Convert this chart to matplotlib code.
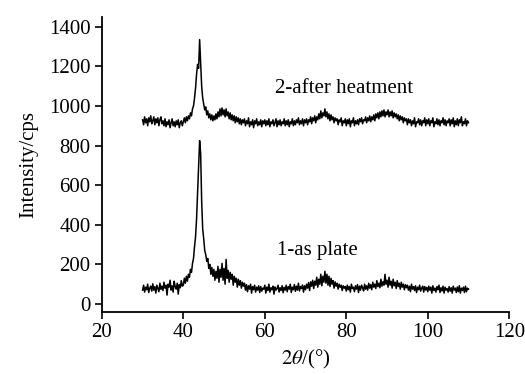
import matplotlib
import matplotlib.pyplot as plt
import numpy as np

matplotlib.use("Agg")

plt.rcParams["font.family"] = "Liberation Serif"
plt.rcParams["mathtext.fontset"] = "stix"

# intensity, 30..110 deg every 0.25 deg
as_plate = [
    70, 95, 60, 85, 72, 100, 58, 80, 90, 65, 102, 70, 88, 55, 95, 78, 62, 105, 74, 90,
    68, 110, 80, 95, 45, 100, 85, 120, 70, 92, 60, 115, 88, 75, 105, 50, 98, 82, 118, 90,
    95, 130, 105, 140, 115, 150, 135, 175, 160, 205, 230, 290, 340, 430, 560, 700, 825, 760, 520, 380,
    330, 270, 250, 215, 230, 180, 200, 150, 185, 140, 175, 120, 165, 130, 190, 110, 175, 135, 205, 120,
    180, 100, 225, 130, 170, 110, 160, 125, 150, 95, 140, 110, 130, 85, 125, 95, 118, 80, 110, 90,
    105, 70, 98, 62, 92, 75, 100, 55, 88, 72, 95, 60, 85, 70, 92, 58, 88, 65, 80, 75,
    95, 55, 85, 68, 100, 60, 82, 72, 90, 50, 86, 70, 78, 95, 60, 82, 68, 92, 57, 84,
    70, 95, 62, 88, 75, 100, 58, 85, 72, 98, 64, 90, 70, 105, 66, 88, 78, 96, 60, 92,
    72, 100, 80, 108, 68, 112, 90, 120, 78, 115, 95, 135, 85, 125, 100, 150, 92, 140, 110, 165,
    105, 150, 95, 140, 88, 130, 100, 118, 80, 112, 90, 105, 75, 100, 85, 95, 68, 92, 80, 88,
    65, 95, 72, 88, 60, 100, 78, 85, 62, 92, 75, 98, 58, 90, 70, 95, 82, 66, 100, 75,
    92, 70, 105, 80, 98, 72, 110, 85, 100, 78, 118, 88, 105, 82, 125, 90, 112, 95, 150, 100,
    120, 85, 135, 95, 115, 80, 125, 92, 110, 78, 118, 88, 105, 75, 110, 85, 100, 72, 98, 82,
    95, 70, 90, 62, 100, 75, 88, 68, 92, 58, 85, 72, 95, 65, 80, 90, 60, 88, 70, 84,
    62, 90, 70, 85, 55, 92, 68, 80, 60, 88, 72, 95, 58, 82, 66, 90, 55, 85, 70, 78,
    60, 88, 65, 82, 55, 90, 70, 80, 58, 86, 62, 92, 55, 80, 68, 85, 58, 90, 62, 80,
    75,
]

after_heat = [
    930, 905, 945, 915, 935, 900, 940, 920, 950, 910, 925, 945, 905, 935, 915, 940, 900, 930, 945, 910,
    925, 900, 935, 895, 920, 905, 930, 890, 915, 935, 900, 920, 895, 925, 905, 930, 890, 915, 925, 900,
    920, 940, 915, 945, 925, 950, 935, 965, 950, 985, 1000, 1040, 1090, 1160, 1210, 1190, 1335, 1220, 1100, 1040,
    1010, 980, 995, 955, 975, 940, 960, 930, 955, 925, 950, 930, 960, 935, 970, 945, 985, 950, 990, 955,
    980, 945, 985, 950, 970, 935, 965, 930, 955, 925, 950, 915, 945, 920, 940, 910, 935, 905, 930, 915,
    935, 900, 925, 910, 940, 895, 920, 905, 930, 890, 925, 910, 935, 900, 920, 905, 930, 895, 925, 910,
    930, 900, 925, 905, 935, 895, 920, 910, 930, 900, 915, 935, 895, 925, 905, 930, 900, 920, 910, 935,
    900, 925, 905, 930, 895, 920, 910, 935, 900, 925, 905, 930, 915, 940, 905, 925, 910, 935, 900, 930,
    915, 935, 905, 930, 920, 945, 910, 940, 925, 950, 915, 945, 930, 960, 935, 975, 940, 965, 950, 985,
    945, 970, 935, 960, 925, 955, 930, 945, 915, 940, 925, 935, 905, 930, 920, 940, 900, 925, 915, 935,
    900, 930, 910, 935, 895, 925, 915, 940, 900, 925, 910, 930, 905, 935, 920, 940, 910, 930, 925, 945,
    915, 940, 925, 950, 920, 945, 930, 955, 925, 960, 940, 965, 935, 970, 945, 975, 950, 980, 945, 970,
    955, 980, 945, 970, 950, 975, 940, 965, 945, 960, 935, 955, 925, 950, 930, 945, 915, 940, 925, 935,
    905, 935, 915, 930, 900, 925, 910, 940, 895, 920, 915, 935, 905, 930, 900, 925, 915, 940, 900, 930,
    910, 935, 900, 925, 915, 940, 895, 920, 910, 935, 905, 930, 900, 925, 915, 940, 905, 930, 900, 925,
    915, 935, 900, 930, 910, 940, 895, 925, 905, 935, 900, 930, 915, 945, 900, 920, 910, 935, 900, 925,
    915,
]

x_ticks = [20, 40, 60, 80, 100, 120]
y_ticks = [0, 200, 400, 600, 800, 1000, 1200, 1400]

fig = plt.figure(figsize=(5.25, 3.74), dpi=100)
ax = fig.add_axes([0.194, 0.166, 0.776, 0.789])

two_theta_1 = np.linspace(30, 110, len(as_plate))
two_theta_2 = np.linspace(30, 110, len(after_heat))
ax.plot(two_theta_1, as_plate, color="black", lw=1.1)
ax.plot(two_theta_2, after_heat, color="black", lw=1.1)

ax.text(63, 272, "1-as plate", fontsize=15, ha="left", va="center")
ax.text(62.5, 1088, "2-after heatment", fontsize=15, ha="left", va="center")

ax.set_xlim(20, 120)
ax.set_ylim(-40, 1450)
ax.set_xticks(x_ticks)
ax.set_yticks(y_ticks)
ax.tick_params(labelsize=15, length=5, width=1.2, direction="out", pad=3)
for side in ("top", "right"):
    ax.spines[side].set_visible(False)
for side in ("left", "bottom"):
    ax.spines[side].set_linewidth(1.3)

ax.set_xlabel(r"$\mathit{2\theta}$/(°)", fontsize=15, labelpad=4)
ax.set_ylabel("Intensity/cps", fontsize=15, labelpad=8)

fig.savefig("out.png", dpi=100)
